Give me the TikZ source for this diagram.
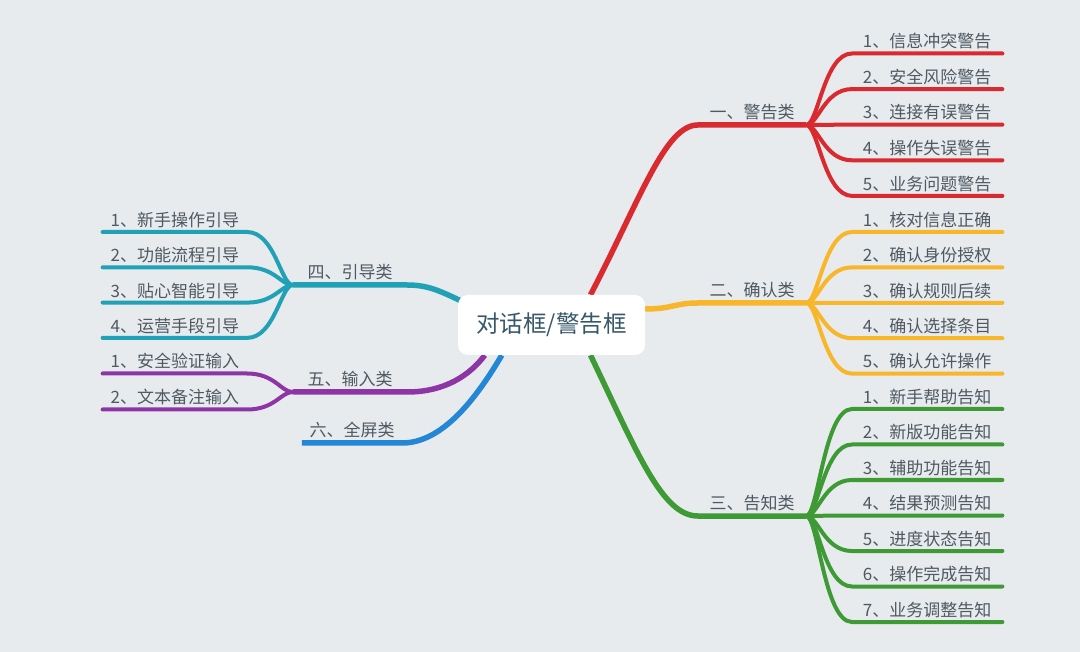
\documentclass[tikz,border=0pt]{standalone}
\usepackage{fontspec}
\setmainfont{Noto Sans CJK SC}

\definecolor{paper}{HTML}{E8EBEE}
\definecolor{inkgray}{HTML}{4E5962}
\definecolor{titleink}{HTML}{37586A}
\definecolor{warnred}{HTML}{D92A2F}
\definecolor{confyellow}{HTML}{F8B62A}
\definecolor{infogreen}{HTML}{3D9A34}
\definecolor{guideteal}{HTML}{20A1B5}
\definecolor{inputpurple}{HTML}{8E35A6}
\definecolor{fullblue}{HTML}{2387D6}

\pgfdeclarelayer{lines}
\pgfsetlayers{lines,main}

\begin{document}
\begin{tikzpicture}[x=1pt, y=-1pt, line cap=round, line join=round,
    topic/.style={fill=white, rounded corners=10pt, minimum width=187pt, minimum height=60pt,
        text=titleink, font=\fontsize{23.5}{28}\selectfont},
    branch/.style={inner xsep=0pt, inner ysep=5pt, minimum width=108pt,
        text=inkgray, font=\fontsize{17}{20}\selectfont},
    leaf/.style={inner xsep=0pt, inner ysep=4pt, minimum width=150pt,
        text=inkgray, font=\fontsize{17}{20}\selectfont},
    stem/.style={line width=5.5pt},
    twig/.style={line width=4pt}]
    \useasboundingbox (0,0) rectangle (1080,652);

    \node[topic] (dlg) at (551.5,325) {对话框/警告框};

    % right side
    \node[branch, anchor=south] (warn) at (752,125) {一、警告类};
    \node[branch, anchor=south] (conf) at (752,303) {二、确认类};
    \node[branch, anchor=south] (info) at (752,516) {三、告知类};

    % left side
    \node[branch, anchor=south, minimum width=114pt] (guide) at (350,285) {四、引导类};
    \node[branch, anchor=south, minimum width=114pt] (input) at (350,392) {五、输入类};
    \node[branch, anchor=south, minimum width=100pt] (full) at (352,443) {六、全屏类};

    \begin{pgfonlayer}{lines}
        \fill[paper] (0,0) rectangle (1080,652);
        \draw[stem, warnred] ([xshift=39pt]dlg.north) .. controls (640,200) and (665,125) .. (warn.south west) -- (warn.south east);
        \draw[stem, confyellow] ([yshift=16pt]dlg.east) .. controls (672,309) and (675,303) .. (conf.south west) -- (conf.south east);
        \draw[stem, infogreen] ([xshift=39pt]dlg.south) .. controls (637,452) and (662,516) .. (info.south west) -- (info.south east);
        \draw[stem, guideteal] ([xshift=3pt,yshift=-6pt]dlg.north west) .. controls (440,291) and (428,285) .. (guide.south east) -- (guide.south west);
        \draw[stem, inputpurple] ([xshift=27pt]dlg.south west) .. controls (470,375) and (445,392) .. (input.south east) -- (input.south west);
        \draw[stem, fullblue] ([xshift=44pt]dlg.south west) .. controls (480,392) and (445,443) .. (full.south east) -- (full.south west);
    \end{pgfonlayer}

    \foreach \t [count=\i] in {信息冲突警告,安全风险警告,连接有误警告,操作失误警告,业务问题警告} {
        \node[leaf, anchor=south west] (warn\i) at (852,{53.5+(\i-1)*35.6}) {\i、\t};
        \draw[twig, warnred] (warn.south east) .. controls +(12,0) and +(-28,0) .. (warn\i.south west) -- (warn\i.south east);
    }
    \foreach \t [count=\i] in {核对信息正确,确认身份授权,确认规则后续,确认选择条目,确认允许操作} {
        \node[leaf, anchor=south west] (conf\i) at (852,{232+(\i-1)*35.4}) {\i、\t};
        \draw[twig, confyellow] (conf.south east) .. controls +(12,0) and +(-28,0) .. (conf\i.south west) -- (conf\i.south east);
    }
    \foreach \t [count=\i] in {新手帮助告知,新版功能告知,辅助功能告知,结果预测告知,进度状态告知,操作完成告知,业务调整告知} {
        \node[leaf, anchor=south west] (info\i) at (852,{409+(\i-1)*35.5}) {\i、\t};
        \draw[twig, infogreen] (info.south east) .. controls +(12,0) and +(-28,0) .. (info\i.south west) -- (info\i.south east);
    }
    \foreach \t [count=\i] in {新手操作引导,功能流程引导,贴心智能引导,运营手段引导} {
        \node[leaf, anchor=south east, minimum width=144pt] (guide\i) at (247,{232+(\i-1)*35.3}) {\i、\t};
        \draw[twig, guideteal] (guide.south west) .. controls +(-12,0) and +(28,0) .. (guide\i.south east) -- (guide\i.south west);
    }
    \foreach \t [count=\i] in {安全验证输入,文本备注输入} {
        \node[leaf, anchor=south east, minimum width=144pt] (input\i) at (247,{373.5+(\i-1)*36}) {\i、\t};
        \draw[twig, inputpurple] (input.south west) .. controls +(-12,0) and +(28,0) .. (input\i.south east) -- (input\i.south west);
    }
\end{tikzpicture}
\end{document}
